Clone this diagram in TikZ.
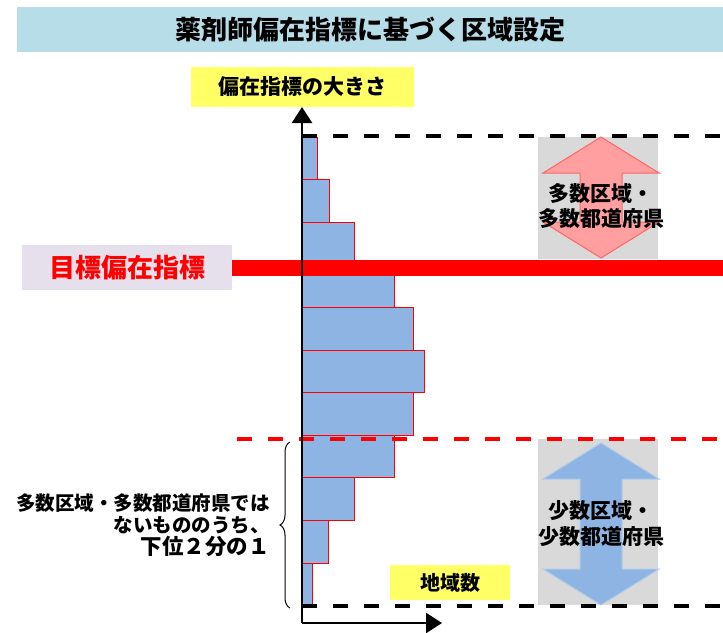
\documentclass[tikz,border=0pt]{standalone}
\usepackage{fontspec}
\setmainfont{Noto Sans CJK JP}
\usepackage{tikz}
\usetikzlibrary{arrows.meta}
\usetikzlibrary{positioning}
\usetikzlibrary{decorations.pathreplacing}
\definecolor{titleblue}{HTML}{B7DDE8}
\definecolor{labelyellow}{HTML}{FFFF66}
\definecolor{barblue}{HTML}{8EB4E3}
\definecolor{panelgray}{HTML}{D9D9D9}
\definecolor{arrowpink}{HTML}{FF9F9F}
\definecolor{targetbg}{HTML}{E6E0EC}
\newcommand{\jfont}[2]{\fontsize{#1}{#2}\selectfont\bfseries}
\newcommand{\regionarrow}[3]{%
  \draw[#1] (601,#2) -- (659,#2+36) -- (622,#2+36) -- (622,#3-36)
    -- (659,#3-36) -- (601,#3) -- (543,#3-36) -- (580,#3-36)
    -- (580,#2+36) -- (543,#2+36) -- cycle;}

\begin{document}
\begin{tikzpicture}[x=1pt, y=-1pt,
    bar/.style={draw=red, line width=0.8pt, fill=barblue},
    guide/.style={line width=3.5pt, dash pattern=on 15pt off 16pt},
    axis/.style={line width=2.5pt, -{Triangle[length=16pt,width=20pt]}},
    tag/.style={fill=labelyellow, inner sep=0pt},
    panel/.style={fill=panelgray}]
  \useasboundingbox (0,0) rectangle (723,632);
  \node[fill=titleblue, minimum width=706pt, minimum height=45pt, inner sep=0pt,
    font=\jfont{26}{26}] (title) at (370,29.5) {薬剤師偏在指標に基づく区域設定};

  \coordinate (origin) at (302,623);
  \coordinate (ytop) at (302,107);
  \coordinate (xend) at (442,623);
  \coordinate (upper) at (302,136);
  \coordinate (half) at (237,439);
  \coordinate (lower) at (302,606);

  \foreach \w [count=\i from 0] in {15,27,52,92,111,122,111,92,52,26,10}
    \draw[bar] (302,{137+42.6*\i}) rectangle ++(\w,42.6);

  \fill[panel] (538,137) rectangle (658,259);
  \fill[panel] (538,439) rectangle (658,605);
  \regionarrow{fill=arrowpink, draw=red!60, line width=1pt}{137}{258}
  \regionarrow{fill=barblue, draw=barblue!70!white, line width=1pt}{443}{605}
  \node[font=\jfont{21}{25}, align=center] (many) at (601,206) {多数区域・\\多数都道府県};
  \node[font=\jfont{21}{26}, align=center] (few) at (601,524) {少数区域・\\少数都道府県};

  \draw[guide] (upper) -- (upper -| title.east);
  \draw[guide, red] (half) -- (half -| title.east);
  \draw[guide] (lower) -- (lower -| title.east);

  \node[fill=targetbg, minimum width=210pt, minimum height=45pt, inner sep=0pt,
    text=red, font=\jfont{26}{26}] (target) at (127,267.5) {目標偏在指標};
  \draw[red, line width=16pt] (target.east) -- (target.east -| title.east);

  \draw[axis] (origin) -- (ytop);
  \draw[axis] (origin) -- (xend);
  \node[tag, minimum width=223pt, minimum height=40pt, font=\jfont{21}{21},
    above=0pt of ytop] (ylabel) {偏在指標の大きさ};
  \node[tag, minimum width=120pt, minimum height=35pt, font=\jfont{20}{20}]
    (count) at (450,582.5) {地域数};

  \draw[line width=1pt, decorate, decoration={brace, amplitude=10pt}]
    (290,608) -- (290,442) coordinate[midway, xshift=-10pt] (bracetip);
  \node[left=10pt of bracetip, align=right, inner sep=0pt, font=\jfont{19.5}{22}]
    (lowerhalf) {多数区域・多数都道府県では\\ないもののうち、\\{\jfont{21.5}{25}下位２分の１}};
\end{tikzpicture}
\end{document}
